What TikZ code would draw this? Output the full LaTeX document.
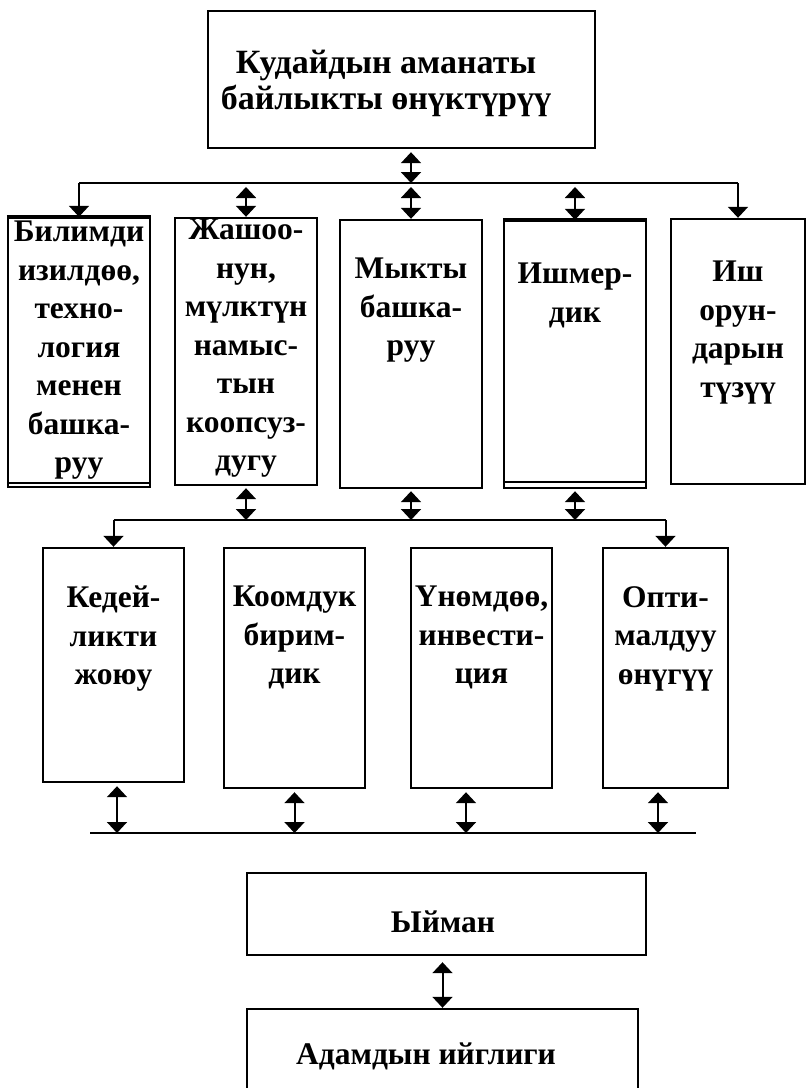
\documentclass[tikz,border=0pt]{standalone}
\usepackage{fontspec}
\setmainfont{Liberation Serif}
\usetikzlibrary{arrows.meta}
\tikzset{
  box/.style={draw,line width=2.4pt,inner sep=0pt},
  lbl/.style={align=center,inner sep=0pt,anchor=north},
  arr/.style={-{Triangle[width=20pt,length=11pt]},line width=2pt},
  dbl/.style={{Triangle[width=20pt,length=11pt]}-{Triangle[width=20pt,length=11pt]},line width=2pt},
  bus/.style={line width=2.2pt},
}
\begin{document}
\begin{tikzpicture}[x=1pt,y=-1pt,font=\bfseries\fontsize{31.5}{38.5}\selectfont]
\useasboundingbox (0,0) rectangle (807,1088);
% top box
\node[box,minimum width=387,minimum height=137] (top) at (401.5,79.5) {};
\node[lbl,font=\bfseries\fontsize{34}{36}\selectfont] (topt) at (386,50) {Кудайдын аманаты\\байлыкты өнүктүрүү};
\coordinate (bus1) at (0,183);
\coordinate (bus2) at (0,520);
\coordinate (bus3l) at (90,833);
\coordinate (bus3r) at (696,833);
% first row
\foreach \n/\x/\y/\w/\h in {b1/79/352.5/142/269,b2/246/351.5/142/267,b3/411/354/142/268,b4/575/354.5/142/267,b5/738/351.5/134/265}
  \node[box,minimum width=\w,minimum height=\h] (\n) at (\x,\y) {};
\draw[line width=3.5pt] (b1.north west) -- (b1.north east);
\draw[line width=3.5pt] (b4.north west) -- (b4.north east);
\draw[line width=1.5pt] ([yshift=5pt]b1.south west) -- ([yshift=5pt]b1.south east);
\draw[line width=1.5pt] ([yshift=7pt]b4.south west) -- ([yshift=7pt]b4.south east);
\node[lbl] (t1) at (79,221) {Билимди\\изилдөө,\\техно-\\логия\\менен\\башка-\\руу};
\node[lbl] (t2) at (246,219) {Жашоо-\\нун,\\мүлктүн\\намыс-\\тын\\коопсуз-\\дугу};
\node[lbl] (t3) at (411,258) {Мыкты\\башка-\\руу};
\node[lbl] (t4) at (575,263) {Ишмер-\\дик};
\node[lbl] (t5) at (738,261) {Иш\\орун-\\дарын\\түзүү};
% second row
\foreach \n/\x/\y/\w/\h in {A/113.5/665/141/234,B/294.5/668/141/240,C/481.5/668/141/240,D/665.5/668/125/240}
  \node[box,minimum width=\w,minimum height=\h] (\n) at (\x,\y) {};
\node[lbl] (tA) at (113.5,586) {Кедей-\\ликти\\жоюу};
\node[lbl] (tB) at (294.5,586) {Коомдук\\бирим-\\дик};
\node[lbl] (tC) at (481.5,586) {Үнөмдөө,\\инвести-\\ция};
\node[lbl] (tD) at (665.5,586) {Опти-\\малдуу\\өнүгүү};
% bottom boxes
\node[box,minimum width=399,minimum height=82] (faith) at (446.5,914) {};
\node[inner sep=0pt] (faitht) at (443,922) {Ыйман};
\node[box,minimum width=391,minimum height=140] (succ) at (442.5,1079) {};
\node[inner sep=0pt] (succt) at (426,1056) {Адамдын ийглиги};
% connectors
\draw[dbl,shorten <=3pt] (top.south -| b3) -- (b3 |- bus1);
\draw[bus] (b1 |- bus1) -- (b5 |- bus1);
\draw[arr] (b1 |- bus1) -- (b1.north);
\draw[arr] (b5 |- bus1) -- (b5.north);
\foreach \n in {b2,b3,b4}
  \draw[dbl,shorten <=4pt] (\n |- bus1) -- (\n.north);
\foreach \n in {b2,b3,b4}
  \draw[dbl,shorten <=2pt] (\n.south) -- (\n |- bus2);
\draw[bus] (A |- bus2) -- (D |- bus2);
\draw[arr] (A |- bus2) -- (A.north);
\draw[arr] (D |- bus2) -- (D.north);
\draw[bus] (bus3l) -- (bus3r);
\foreach \n/\s in {A/3.5,B/0,C/-15.5,D/-7.5}
  \draw[dbl,shorten <=3pt] ([xshift=\s pt]\n.south) -- ([xshift=\s pt]\n.south |- bus3l);
\draw[dbl,shorten <=6pt] (faith.south -| succ) -- (succ.north);
\end{tikzpicture}
\end{document}
